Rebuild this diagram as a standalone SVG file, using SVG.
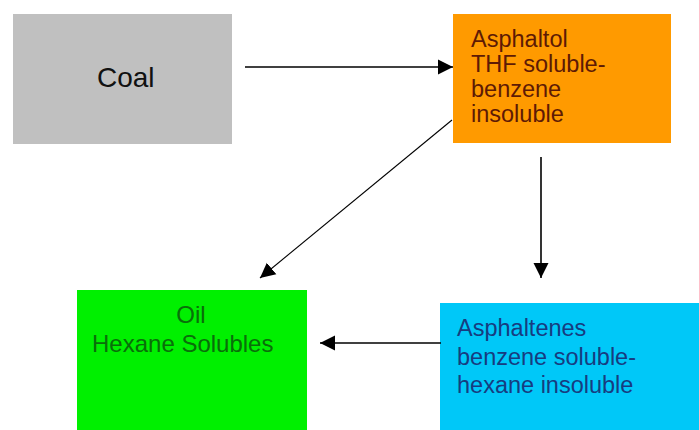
<svg xmlns="http://www.w3.org/2000/svg" width="699" height="430" viewBox="0 0 699 430">
  <style>
    text { font-family: "Liberation Sans", Arial, sans-serif; }
    .conn { stroke: #000; stroke-width: 1.6; fill: none; marker-end: url(#arrow); }
    .thin { stroke-width: 1.1; }
  </style>
  <defs>
    <marker id="arrow" markerUnits="userSpaceOnUse" markerWidth="16" markerHeight="16" viewBox="0 0 16 16" refX="15" refY="8" orient="auto">
      <path d="M0,0.5 L15,8 L0,15.5 z" fill="#000"/>
    </marker>
  </defs>
  <rect width="699" height="430" fill="#fff"/>

  <g id="coal">
    <rect x="13" y="14" width="219" height="130" fill="#c0c0c0"/>
    <text x="97" y="87" font-size="28" fill="#111">Coal</text>
  </g>

  <g id="asphaltol">
    <rect x="453" y="14" width="218" height="129" fill="#ff9a00"/>
    <g font-size="23.5" fill="#5e1a05">
      <text x="471" y="47">Asphaltol</text>
      <text x="471" y="72">THF soluble-</text>
      <text x="471" y="97">benzene</text>
      <text x="471" y="122">insoluble</text>
    </g>
  </g>

  <g id="oil">
    <rect x="77" y="290" width="230" height="140" fill="#00f000"/>
    <g font-size="24" fill="#0a6e0a">
      <text x="191" y="323" text-anchor="middle">Oil</text>
      <text x="92" y="352">Hexane Solubles</text>
    </g>
  </g>

  <g id="asphaltenes">
    <rect x="440" y="303" width="259" height="127" fill="#00c8f8"/>
    <g font-size="23.5" fill="#173c80">
      <text x="457" y="336">Asphaltenes</text>
      <text x="457" y="365">benzene soluble-</text>
      <text x="457" y="393">hexane insoluble</text>
    </g>
  </g>

  <g id="connectors">
    <line class="conn" x1="245" y1="67" x2="453" y2="67"/>
    <line class="conn thin" x1="452" y1="120" x2="260" y2="278"/>
    <line class="conn" x1="541" y1="157" x2="541" y2="278"/>
    <line class="conn" x1="441" y1="343" x2="320" y2="343"/>
  </g>
</svg>
